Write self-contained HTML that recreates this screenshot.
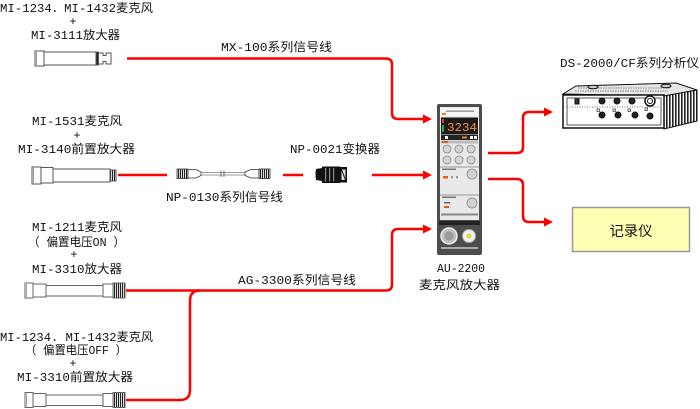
<!DOCTYPE html>
<html><head><meta charset="utf-8"><style>
html,body{margin:0;padding:0;background:#fff;}
svg{display:block;}
text{font-family:"Liberation Mono","Noto Sans CJK SC",monospace;font-size:12px;fill:#111;}
</style></head><body>
<svg width="700" height="409" viewBox="0 0 700 409" xmlns="http://www.w3.org/2000/svg">
<defs>
<pattern id="hatch" width="3" height="3" patternUnits="userSpaceOnUse"><rect width="3" height="3" fill="#fff"/><rect width="1.6" height="3" fill="#222"/></pattern>
<pattern id="knurl" width="2" height="2" patternUnits="userSpaceOnUse"><rect width="2" height="2" fill="#ddd"/><rect width="1" height="2" fill="#222"/></pattern>
</defs>

<!-- labels -->
<text x="0" y="12" textLength="153" lengthAdjust="spacingAndGlyphs">MI-1234．MI-1432麦克风</text>
<text x="73" y="25" text-anchor="middle">+</text>
<text x="31" y="39" textLength="89" lengthAdjust="spacingAndGlyphs">MI-3111放大器</text>
<text x="221" y="51" textLength="111" lengthAdjust="spacingAndGlyphs">MX-100系列信号线</text>
<text x="32" y="125" textLength="90" lengthAdjust="spacingAndGlyphs">MI-1531麦克风</text>
<text x="77" y="139" text-anchor="middle">+</text>
<text x="18" y="153" textLength="117" lengthAdjust="spacingAndGlyphs">MI-3140前置放大器</text>
<text x="290" y="153" textLength="90" lengthAdjust="spacingAndGlyphs">NP-0021变换器</text>
<text x="166" y="201" textLength="117" lengthAdjust="spacingAndGlyphs">NP-0130系列信号线</text>
<text x="32" y="231" textLength="90" lengthAdjust="spacingAndGlyphs">MI-1211麦克风</text>
<text x="28" y="246" textLength="97" lengthAdjust="spacingAndGlyphs">（ 偏置电压ON ）</text>
<text x="74" y="258" text-anchor="middle">+</text>
<text x="32" y="273" textLength="90" lengthAdjust="spacingAndGlyphs">MI-3310放大器</text>
<text x="238" y="284" textLength="118" lengthAdjust="spacingAndGlyphs">AG-3300系列信号线</text>
<text x="437" y="272" textLength="48" lengthAdjust="spacingAndGlyphs">AU-2200</text>
<text x="419" y="289" textLength="81" lengthAdjust="spacingAndGlyphs">麦克风放大器</text>
<text x="0" y="341" textLength="153" lengthAdjust="spacingAndGlyphs">MI-1234. MI-1432麦克风</text>
<text x="25" y="354" textLength="102" lengthAdjust="spacingAndGlyphs">（ 偏置电压OFF ）</text>
<text x="73" y="367" text-anchor="middle">+</text>
<text x="17" y="381" textLength="116" lengthAdjust="spacingAndGlyphs">MI-3310前置放大器</text>
<text x="560" y="67" textLength="139" lengthAdjust="spacingAndGlyphs">DS-2000/CF系列分析仪</text>

<!-- red connectors -->
<g fill="none" stroke="#ff0000" stroke-width="2.5" stroke-linejoin="round">
<path d="M127,58.5 H386 Q392,58.5 392,64.5 V113 Q392,119 398,119 H425"/>
<path d="M118,175 H167"/>
<path d="M283,175 H303"/>
<path d="M372,175 H425"/>
<path d="M126,290.5 H386 Q392,290.5 392,284.5 V235 Q392,229 398,229 H425"/>
<path d="M126,400 H180 Q190,400 190,390 V300.5 Q190,290.5 200,290.5"/>
<path d="M488,153 H517 Q523,153 523,147 V118 Q523,112 529,112 H546"/>
<path d="M488,179 H517 Q523,179 523,185 V216 Q523,222 529,222 H546"/>
</g>
<g fill="#ff0000">
<polygon points="423,114.5 432,119 423,123.5"/>
<polygon points="423,170.5 432,175 423,179.5"/>
<polygon points="423,224.5 432,229 423,233.5"/>
<polygon points="544,107.5 553,112 544,116.5"/>
<polygon points="544,217.5 553,222 544,226.5"/>
</g>

<!-- mic 1 -->
<g stroke="#555" stroke-width="1" fill="#fff">
<rect x="35" y="51" width="9" height="15"/>
<path d="M36.5,52 V65" stroke="#999"/>
<rect x="44" y="52" width="52" height="13"/>
<rect x="96" y="52" width="2.5" height="13" fill="#222"/>
<path d="M98.5,53 H103 V55.5 H106 V53 H111 V64 H106 V61.5 H103 V64 H98.5 Z"/>
</g>
<!-- mic 2 -->
<g stroke="#555" stroke-width="1" fill="#fff">
<rect x="32" y="167" width="9" height="17"/>
<path d="M33.5,168 V183" stroke="#999"/>
<rect x="41" y="167.5" width="12" height="15.5"/>
<rect x="53" y="169" width="57" height="13"/>
<rect x="110" y="170" width="6" height="11" fill="url(#knurl)"/>
</g>
<!-- mic 3 -->
<g stroke="#666" stroke-width="1" fill="#fff">
<rect x="25" y="283" width="8" height="15"/>
<path d="M26.5,284 V297" stroke="#aaa"/>
<rect x="33" y="284" width="13" height="13"/>
<rect x="46" y="285.5" width="57" height="10.5"/>
<rect x="103" y="284" width="10" height="13"/>
<rect x="113" y="283" width="12" height="15" fill="url(#knurl)"/>
</g>
<!-- mic 4 -->
<g stroke="#666" stroke-width="1" fill="#fff">
<rect x="25" y="392.5" width="8" height="15"/>
<path d="M26.5,393.5 V406.5" stroke="#aaa"/>
<rect x="33" y="393.5" width="13" height="13"/>
<rect x="46" y="395" width="57" height="10.5"/>
<rect x="103" y="393.5" width="10" height="13"/>
<rect x="113" y="392.5" width="12" height="15" fill="url(#knurl)"/>
</g>

<!-- NP-0130 cable -->
<g stroke="#333" stroke-width="0.8">
<rect x="177" y="169" width="11" height="9.5" fill="url(#knurl)"/>
<polygon points="188,169.5 196,169.5 201,172 201,175.5 196,178 188,178" fill="#fff"/>
<line x1="201" y1="172.5" x2="245" y2="172.5" stroke="#777"/>
<line x1="201" y1="175" x2="245" y2="175" stroke="#777"/>
<line x1="221" y1="170.5" x2="221" y2="177" stroke="#555"/>
<line x1="224" y1="170.5" x2="224" y2="177" stroke="#555"/>
<polygon points="259,169.5 251,169.5 245,172 245,175.5 251,178 259,178" fill="#fff"/>
<rect x="259" y="169" width="11" height="9.5" fill="url(#knurl)"/>
</g>

<!-- NP-0021 converter -->
<g>
<path d="M316,169 Q315,174.5 316,180 L322,181 L322,168 Z" fill="#111"/>
<rect x="322" y="166.5" width="18" height="16.5" fill="#111"/>
<rect x="325" y="168" width="1.2" height="13.5" fill="#888"/>
<rect x="329" y="168" width="1.2" height="13.5" fill="#888"/>
<rect x="333" y="168" width="1.2" height="13.5" fill="#888"/>
<rect x="340" y="167" width="7" height="15.5" fill="#111"/>
<rect x="341.5" y="169.5" width="4" height="10.5" fill="#ddd"/>
<path d="M341.5,169.5 L345.5,180" stroke="#111" stroke-width="1"/>
</g>

<!-- AU-2200 amplifier -->
<g>
<rect x="437" y="104" width="45" height="151" rx="2" fill="#4d4d4d"/>
<rect x="440" y="107" width="39" height="113" fill="#e9e9e9"/>
<rect x="440.5" y="108" width="38" height="8" fill="#f7f7f7"/>
<rect x="446" y="110.5" width="28" height="1.3" fill="#888"/>
<rect x="442" y="113" width="4" height="2" fill="#e88030"/>
<rect x="441" y="117.5" width="37" height="17" fill="#1a1a1a"/>
<rect x="442" y="119" width="2" height="4" fill="#e04020"/>
<rect x="442" y="125" width="2" height="7" fill="#30b030"/>
<text x="447" y="131" style="font-size:12px;fill:#ff8a40;font-family:'Liberation Mono',monospace" textLength="30" lengthAdjust="spacingAndGlyphs">3234</text>
<rect x="441" y="135" width="37" height="5" fill="#222"/>
<rect x="445" y="136" width="3" height="3" fill="#fff"/>
<rect x="462" y="136.5" width="5" height="2" fill="#e88030"/>
<rect x="470" y="136" width="3" height="3" fill="#fff"/>
<rect x="474" y="136" width="3" height="3" fill="#fff"/>
<rect x="441" y="140.5" width="37" height="3" fill="#bbb"/>
<rect x="442" y="141" width="6" height="2" fill="#e06020"/>
<g fill="#d4d4d4" stroke="#888" stroke-width="0.8">
<circle cx="447" cy="149" r="4"/><circle cx="459" cy="149" r="4"/><circle cx="471" cy="149" r="4"/>
<circle cx="447" cy="160" r="4"/><circle cx="459" cy="160" r="4"/><circle cx="471" cy="160" r="4"/>
</g>
<rect x="440" y="166.5" width="39" height="1" fill="#999"/>
<rect x="442" y="168.5" width="14" height="1.5" fill="#777"/>
<rect x="443" y="176" width="5" height="2.5" fill="#e06020"/>
<rect x="451" y="176" width="2" height="2.5" fill="#999"/>
<rect x="456" y="176" width="2" height="2.5" fill="#999"/>
<circle cx="472" cy="174" r="5" fill="#d0d0d0" stroke="#888" stroke-width="0.8"/>
<rect x="440" y="194.5" width="39" height="1" fill="#999"/>
<rect x="442" y="196.5" width="14" height="1.5" fill="#777"/>
<rect x="444" y="202" width="6" height="1.5" fill="#666"/>
<rect x="444" y="206" width="5" height="2" fill="#e06020"/>
<circle cx="472" cy="203" r="5" fill="#d0d0d0" stroke="#888" stroke-width="0.8"/>
<rect x="441" y="213.5" width="37" height="2" fill="#888"/>
<rect x="439" y="221" width="41" height="4" fill="#222"/>
<circle cx="449" cy="236" r="8" fill="#bdbdbd" stroke="#eee" stroke-width="1.5"/>
<circle cx="449" cy="236" r="4.5" fill="#9a9a9a"/>
<circle cx="469" cy="236" r="6.5" fill="#f2f2f2" stroke="#aaa" stroke-width="1"/>
<circle cx="469" cy="236" r="2.5" fill="#e8d040"/>
<rect x="441" y="247" width="37" height="2" fill="#aaa"/>
</g>

<!-- DS-2000 analyzer -->
<g stroke="#111" stroke-width="1">
<polygon points="563,94 576,86 676,83 697,90 664,96" fill="#e6e6e6"/>
<path d="M578,88 H670" stroke="#888" stroke-dasharray="1.5,1"/>
<path d="M575,91 H668" stroke="#888" stroke-dasharray="1.5,1"/>
<ellipse cx="593" cy="87" rx="5" ry="1.8" fill="#ccc"/>
<ellipse cx="666" cy="86" rx="5" ry="1.8" fill="#ccc"/>
<polygon points="664,96 697,90 697,121 664,129" fill="url(#hatch)"/>
<rect x="563" y="95" width="101" height="33" fill="#fff" stroke-width="1.5"/>
<rect x="567" y="98" width="94" height="27" fill="#fff" stroke-width="0.7"/>
<rect x="575" y="99" width="4" height="5" fill="#333"/>
<path d="M567,107 H660" stroke="#444" stroke-dasharray="1,1.5" stroke-width="0.8"/>
<g fill="#222">
<circle cx="602" cy="101" r="3"/><circle cx="617" cy="101" r="3"/><circle cx="632" cy="101" r="3"/>
<circle cx="602" cy="115" r="3"/><circle cx="618" cy="115" r="3"/><circle cx="635" cy="115" r="3"/><circle cx="650" cy="116" r="3"/>
</g>
<circle cx="650" cy="101" r="5" fill="#fff" stroke-width="1.5"/>
<circle cx="650" cy="101" r="2.5" fill="#fff"/>
<g fill="#fff" stroke-width="0.6">
<rect x="597" y="109" width="2.5" height="2.5"/><rect x="613" y="109" width="2.5" height="2.5"/><rect x="628" y="109" width="2.5" height="2.5"/><rect x="645" y="108" width="2.5" height="2.5"/>
</g>
</g>

<!-- recorder -->
<rect x="572.5" y="207.5" width="117" height="44" fill="#ffffb4" stroke="#9a9a9a" stroke-width="1.5"/>
<text x="631" y="236" text-anchor="middle" style="font-size:14px" textLength="43" lengthAdjust="spacingAndGlyphs">记录仪</text>
</svg>
</body></html>
